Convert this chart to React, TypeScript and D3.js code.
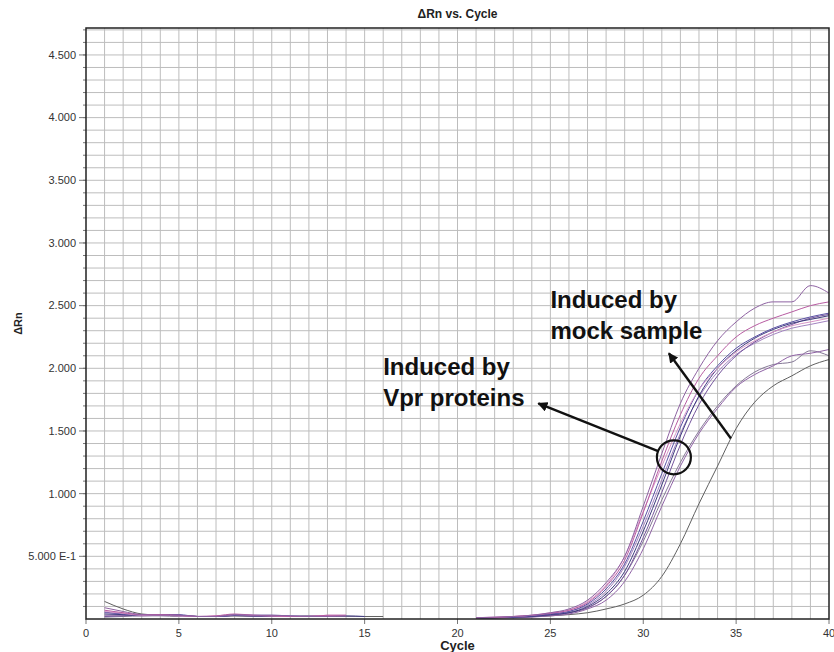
import React from "react";
import * as d3 from "d3";

// Amplification plot: ΔRn per cycle for each well.
const W = 834;
const H = 652;

const xTicks = [0, 5, 10, 15, 20, 25, 30, 35, 40];
const yTicks = [0.5, 1.0, 1.5, 2.0, 2.5, 3.0, 3.5, 4.0, 4.5];
const yTickLabels = ["5.000 E-1", "1.000", "1.500", "2.000", "2.500", "3.000", "3.500", "4.000", "4.500"];

// Baseline region readings (start at cycle 1)
const baseBlack = [0.14, 0.08, 0.04, 0.03, 0.025, 0.02, 0.02, 0.025, 0.02, 0.02, 0.02, 0.025, 0.02, 0.02, 0.02, 0.02];
const baseL1 = [0.09, 0.06, 0.035, 0.03, 0.03, 0.02, 0.02, 0.035, 0.03, 0.03, 0.025, 0.02, 0.02, 0.025];
const baseV2 = [0.07, 0.05, 0.035, 0.035, 0.03, 0.02, 0.025, 0.04, 0.03, 0.025, 0.02, 0.02, 0.03, 0.03];
const baseV3 = [0.055, 0.04, 0.03, 0.035, 0.035, 0.02, 0.02, 0.03, 0.03, 0.03, 0.025, 0.02, 0.025];
const baseV4 = [0.04, 0.035, 0.03, 0.035, 0.03, 0.02, 0.02, 0.03, 0.025, 0.025, 0.02, 0.02, 0.025, 0.025, 0.02];
const baseV5 = [0.06, 0.045, 0.03, 0.03, 0.025, 0.02, 0.025, 0.035, 0.03, 0.025, 0.02, 0.02, 0.03, 0.03];
const baseV6 = [0.02, 0.025, 0.03, 0.03, 0.03, 0.02, 0.02, 0.03, 0.025, 0.025, 0.02, 0.02, 0.02];
const baseV7 = [0.05, 0.04, 0.03, 0.03, 0.025, 0.02, 0.02, 0.03, 0.025, 0.025, 0.02, 0.025, 0.02];
const baseM1 = [0.015, 0.02, 0.025, 0.025, 0.02, 0.02, 0.02, 0.025, 0.02, 0.02, 0.02, 0.02, 0.02, 0.02, 0.02];
const baseM2 = [0.03, 0.03, 0.025, 0.03, 0.025, 0.02, 0.02, 0.03, 0.025, 0.02, 0.02, 0.02, 0.02];

// Exponential / plateau readings (start at cycle 21)
const ampBlack = [0.005, 0.008, 0.012, 0.018, 0.025, 0.035, 0.05, 0.08, 0.12, 0.19, 0.34, 0.6, 0.92, 1.22, 1.52, 1.73, 1.86, 1.94, 2.02, 2.07];
const ampL1 = [0.01, 0.015, 0.02, 0.03, 0.05, 0.08, 0.15, 0.29, 0.5, 0.9, 1.32, 1.72, 2.0, 2.22, 2.37, 2.48, 2.53, 2.53, 2.66, 2.6];
const ampV2 = [0.01, 0.012, 0.02, 0.03, 0.045, 0.07, 0.13, 0.26, 0.47, 0.85, 1.26, 1.63, 1.92, 2.1, 2.25, 2.34, 2.4, 2.45, 2.5, 2.53];
const ampV3 = [0.005, 0.01, 0.015, 0.025, 0.04, 0.06, 0.12, 0.24, 0.44, 0.78, 1.16, 1.53, 1.83, 2.02, 2.16, 2.25, 2.32, 2.37, 2.41, 2.44];
const ampV4 = [0.005, 0.01, 0.015, 0.02, 0.035, 0.05, 0.1, 0.2, 0.38, 0.7, 1.07, 1.46, 1.78, 2.0, 2.14, 2.24, 2.31, 2.36, 2.39, 2.42];
const ampV5 = [0.01, 0.015, 0.02, 0.03, 0.05, 0.07, 0.14, 0.27, 0.5, 0.86, 1.22, 1.56, 1.83, 2.0, 2.13, 2.22, 2.29, 2.34, 2.37, 2.4];
const ampV6 = [0.005, 0.01, 0.015, 0.02, 0.03, 0.05, 0.09, 0.18, 0.35, 0.65, 1.01, 1.39, 1.71, 1.94, 2.1, 2.21, 2.29, 2.35, 2.4, 2.43];
const ampV7 = [0.005, 0.01, 0.015, 0.025, 0.04, 0.06, 0.11, 0.22, 0.42, 0.74, 1.11, 1.48, 1.77, 1.97, 2.11, 2.2, 2.27, 2.32, 2.35, 2.38];
const ampM1 = [0.005, 0.01, 0.01, 0.02, 0.03, 0.05, 0.09, 0.18, 0.35, 0.62, 0.95, 1.25, 1.5, 1.7, 1.86, 1.97, 2.03, 2.05, 2.14, 2.1];
const ampM2 = [0.005, 0.01, 0.01, 0.015, 0.025, 0.04, 0.08, 0.15, 0.3, 0.56, 0.9, 1.22, 1.48, 1.68, 1.85, 1.95, 2.02, 2.1, 2.12, 2.15];

const wells = [
  { id: "K", color: "#606060", base: baseBlack, amp: ampBlack },
  { id: "M1", color: "#857896", base: baseM1, amp: ampM1 },
  { id: "M2", color: "#9064a6", base: baseM2, amp: ampM2 },
  { id: "V7", color: "#a282c0", base: baseV7, amp: ampV7 },
  { id: "V6", color: "#74549c", base: baseV6, amp: ampV6 },
  { id: "V4", color: "#3e3a7e", base: baseV4, amp: ampV4 },
  { id: "V3", color: "#5a50a4", base: baseV3, amp: ampV3 },
  { id: "V5", color: "#d896c8", base: baseV5, amp: ampV5 },
  { id: "V2", color: "#b85ca2", base: baseV2, amp: ampV2 },
  { id: "L1", color: "#8e62a2", base: baseL1, amp: ampL1 },
];

const x = d3.scaleLinear().domain([0, 40]).range([86, 829]);
const y = d3.scaleLinear().domain([0, 4.715]).range([619, 28]);

const line = d3
  .line<[number, number]>()
  .x((d) => x(d[0]))
  .y((d) => y(d[1]))
  .curve(d3.curveMonotoneX);

const FONT = "'Liberation Sans', Arial, sans-serif";

export default function App() {
  const [x0, x1] = x.range();
  const [y0, y1] = y.range();
  const vGrid = d3.range(1, 40);
  const hGrid = d3.range(1, 48).map((i) => i / 10);

  // annotation anchors in data units
  const circleC: [number, number] = [31.65, 1.29];
  const vprTip: [number, number] = [24.35, 1.72];
  const mockTail: [number, number] = [34.72, 1.44];
  const mockTip: [number, number] = [31.38, 2.12];
  const cR = 17;
  const cx = x(circleC[0]);
  const cy = y(circleC[1]);
  const tx = x(vprTip[0]);
  const ty = y(vprTip[1]);
  const ang = Math.atan2(ty - cy, tx - cx);
  const vprTail = [cx + cR * Math.cos(ang), cy + cR * Math.sin(ang)];

  return (
    <svg width={W} height={H} style={{ position: "absolute", left: 0, top: 0, background: "#fff" }}>
      <defs>
        <marker id="ah" viewBox="0 0 10 10" refX="9" refY="5" markerWidth="4.2" markerHeight="4.2" orient="auto">
          <path d="M0,0 L10,5 L0,10 z" fill="#111" />
        </marker>
      </defs>

      {/* grid */}
      <g stroke="#bdbdbd" strokeWidth={1}>
        {vGrid.map((c) => (
          <line key={"v" + c} x1={x(c)} x2={x(c)} y1={y1} y2={y0} />
        ))}
        {hGrid.map((v) => (
          <line key={"h" + v} x1={x0} x2={x1} y1={y(v)} y2={y(v)} />
        ))}
      </g>

      {/* ticks */}
      <g stroke="#777" strokeWidth={1}>
        {hGrid.map((v) => (
          <line key={"mt" + v} x1={x0 - 3} x2={x0} y1={y(v)} y2={y(v)} />
        ))}
        {yTicks.map((v) => (
          <line key={"yt" + v} x1={x0 - 7} x2={x0} y1={y(v)} y2={y(v)} />
        ))}
        {xTicks.map((c) => (
          <line key={"xt" + c} x1={x(c)} x2={x(c)} y1={y0} y2={y0 + 5} />
        ))}
      </g>

      {/* curves */}
      <g fill="none" strokeWidth={1}>
        {wells.map((w) => (
          <g key={w.id} stroke={w.color}>
            <path d={line(w.base.map((v, i) => [i + 1, v] as [number, number])) || ""} />
            <path d={line(w.amp.map((v, i) => [i + 21, v] as [number, number])) || ""} />
          </g>
        ))}
      </g>

      {/* frame */}
      <rect x={x0} y={y1} width={x1 - x0} height={y0 - y1} fill="none" stroke="#222" strokeWidth={1.5} />

      {/* tick labels */}
      <g fontFamily={FONT} fontSize={11} fill="#333">
        {yTicks.map((v, i) => (
          <text key={"yl" + v} x={x0 - 10} y={y(v)} dy="0.35em" textAnchor="end">
            {yTickLabels[i]}
          </text>
        ))}
        {xTicks.map((c) => (
          <text key={"xl" + c} x={x(c)} y={y0 + 14} dy="0.35em" textAnchor="middle">
            {c}
          </text>
        ))}
      </g>

      {/* titles */}
      <text x={(x0 + x1) / 2} y={18} textAnchor="middle" fontFamily={FONT} fontWeight="bold" fontSize={12} fill="#222">
        ΔRn vs. Cycle
      </text>
      <text x={(x0 + x1) / 2} y={650} textAnchor="middle" fontFamily={FONT} fontWeight="bold" fontSize={13} fill="#222">
        Cycle
      </text>
      <text
        transform={`translate(22,${(y0 + y1) / 2}) rotate(-90)`}
        textAnchor="middle"
        fontFamily={FONT}
        fontWeight="bold"
        fontSize={11}
        fill="#222"
      >
        ΔRn
      </text>

      {/* annotations */}
      <g fontFamily={FONT} fontWeight="bold" fontSize={24} fill="#111">
        <text x={x(25.0)} y={y(2.48)}>Induced by</text>
        <text x={x(25.0)} y={y(2.48) + 31}>mock sample</text>
        <text x={x(16.0)} y={y(1.95)}>Induced by</text>
        <text x={x(16.0)} y={y(1.95) + 31}>Vpr proteins</text>
      </g>
      <circle cx={cx} cy={cy} r={cR} fill="none" stroke="#111" strokeWidth={2.2} />
      <line
        x1={vprTail[0]}
        y1={vprTail[1]}
        x2={tx}
        y2={ty}
        stroke="#111"
        strokeWidth={2.4}
        markerEnd="url(#ah)"
      />
      <line
        x1={x(mockTail[0])}
        y1={y(mockTail[1])}
        x2={x(mockTip[0])}
        y2={y(mockTip[1])}
        stroke="#111"
        strokeWidth={2.4}
        markerEnd="url(#ah)"
      />
    </svg>
  );
}
